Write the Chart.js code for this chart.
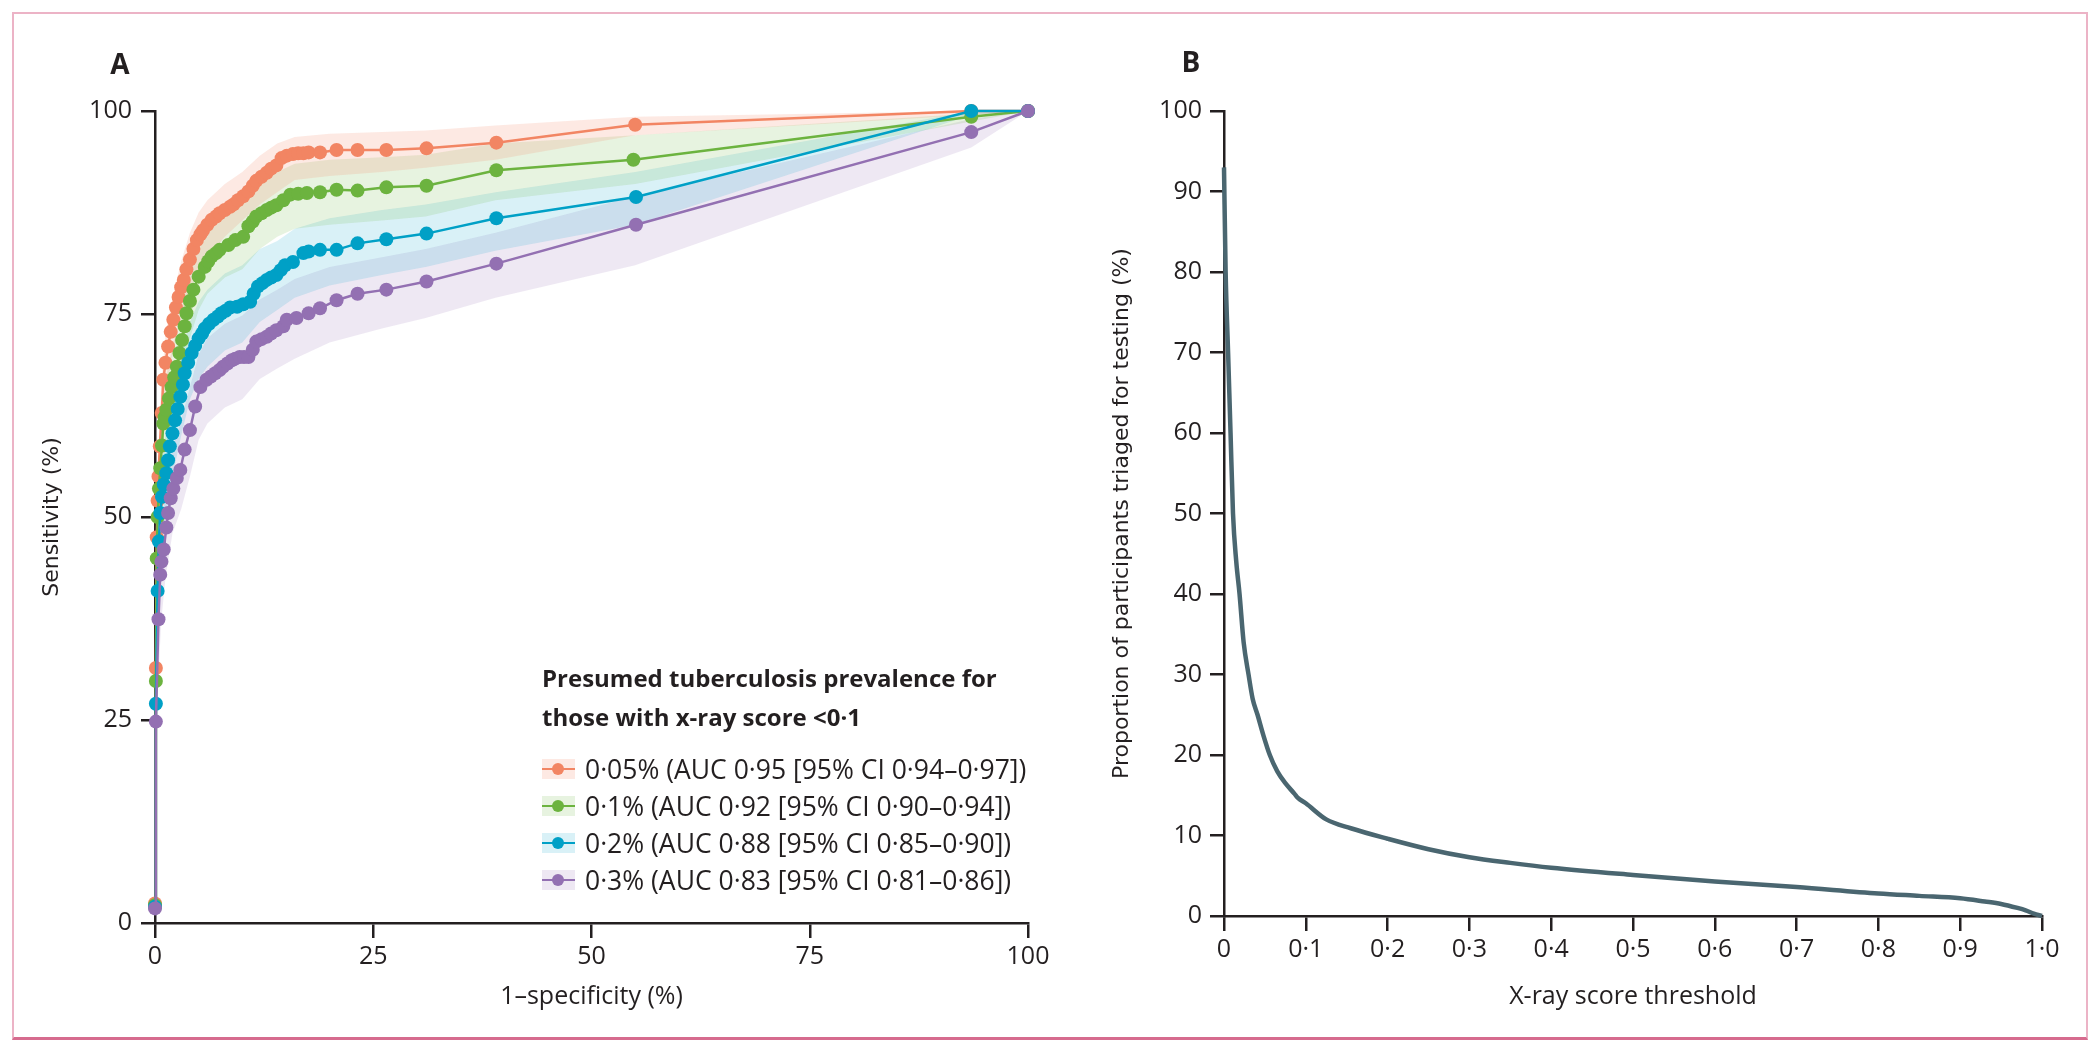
<!DOCTYPE html>
<html>
<head>
<meta charset="utf-8">
<script src="https://cdn.jsdelivr.net/npm/chart.js@4.4.0/dist/chart.umd.min.js"></script>
<style>
  html, body { margin: 0; padding: 0; background: #fff; width: 2100px; height: 1050px; overflow: hidden; }
  #frame { position: absolute; left: 12px; top: 12px; width: 2072px; height: 1023px;
           border: 2px solid #ecb3c6; border-bottom: 3px solid #d66b8e; }
  canvas { position: absolute; top: 0; }
  #chartA { left: 0; }
  #chartB { left: 1050px; }
  .panel { position: absolute; font: bold 28px "Open Sans", sans-serif; color: #231f20; transform: translate(-50%, -50%); }
  #legend { position: absolute; left: 542px; top: 658px; font-family: "Open Sans", sans-serif; color: #231f20; }
  #legend .ltitle { font-weight: bold; font-size: 24px; line-height: 39px; white-space: nowrap; }
  #legend .items { margin-top: 14px; }
  #legend .item { display: flex; align-items: center; height: 37px; font-size: 26.5px; white-space: nowrap; }
  #legend .sw { position: relative; width: 33px; height: 20px; margin-right: 10px; }
  #legend .sw .ln { position: absolute; left: 0; right: 0; top: 9px; height: 2px; }
  #legend .sw .dt { position: absolute; left: 10px; top: 4px; width: 12px; height: 12px; border-radius: 50%; }
</style>
</head>
<body>
<div id="frame"></div>
<canvas id="chartA" width="1080" height="1050"></canvas>
<canvas id="chartB" width="1050" height="1050"></canvas>
<div class="panel" style="left:120px; top:63px">A</div>
<div class="panel" style="left:1191px; top:61px">B</div>
<div id="legend">
  <div class="ltitle">Presumed tuberculosis prevalence for<br>those with x-ray score &lt;0·1</div>
  <div class="items" id="legendItems"></div>
</div>
<script>
// ---- Panel A: ROC curves ----
const seriesLabels = [
    '0·05% (AUC 0·95 [95% CI 0·94–0·97])',
    '0·1% (AUC 0·92 [95% CI 0·90–0·94])',
    '0·2% (AUC 0·88 [95% CI 0·85–0·90])',
    '0·3% (AUC 0·83 [95% CI 0·81–0·86])'
];
const seriesColors = ['#f28563', '#6cb33f', '#00a0c6', '#9370b2'];
const bandColors = ['rgba(242,133,99,0.18)', 'rgba(108,179,63,0.16)', 'rgba(0,160,198,0.15)', 'rgba(147,112,178,0.16)'];

const fpr005 = [0, 0.1, 0.2, 0.3, 0.4, 0.55, 0.77, 0.95, 1.2, 1.5, 1.8, 2.1, 2.4, 2.7, 3.0, 3.3, 3.6, 4.0, 4.4, 4.8, 5.2, 5.5, 6.0, 6.5, 7.0, 7.4, 8.0, 8.6, 9.0, 9.5, 10.1, 10.7, 11.2, 11.6, 12.2, 12.8, 13.3, 13.9, 14.5, 15.1, 15.8, 16.4, 17.0, 17.6, 18.9, 20.8, 23.2, 26.5, 31.1, 39.1, 55.0, 93.5, 100];
const sens005 = [2.4, 31.4, 47.5, 52, 55, 58.7, 62.8, 66.9, 69, 71, 72.8, 74.3, 75.8, 77.1, 78.3, 79.2, 80.5, 81.7, 83, 84.1, 84.8, 85.3, 86, 86.6, 87, 87.4, 87.8, 88.2, 88.5, 89, 89.5, 90.1, 90.8, 91.4, 91.9, 92.4, 92.9, 93.3, 94.2, 94.5, 94.7, 94.8, 94.8, 94.9, 94.9, 95.2, 95.2, 95.2, 95.4, 96.1, 98.3, 100, 100];

const fpr01 = [0, 0.1, 0.2, 0.3, 0.45, 0.6, 0.8, 0.95, 1.1, 1.3, 1.6, 1.9, 2.2, 2.5, 2.8, 3.1, 3.4, 3.6, 4.0, 4.4, 5.0, 5.7, 6.1, 6.5, 7.0, 7.4, 8.4, 9.2, 10.1, 10.7, 11.2, 11.6, 12.2, 12.8, 13.3, 13.9, 14.7, 15.5, 16.4, 17.4, 18.9, 20.8, 23.2, 26.5, 31.1, 39.1, 54.8, 93.5, 100];
const sens01 = [2.2, 29.8, 44.9, 50, 53.5, 56, 58.8, 61.5, 62.3, 63.2, 64.6, 66.0, 67.2, 68.5, 70.2, 71.8, 73.5, 75.1, 76.6, 78.0, 79.6, 80.8, 81.5, 82.1, 82.5, 82.9, 83.5, 84.1, 84.5, 85.8, 86.4, 87.0, 87.4, 87.8, 88.1, 88.4, 89.0, 89.7, 89.8, 89.9, 90.0, 90.3, 90.2, 90.6, 90.8, 92.7, 94.0, 99.3, 100];

const fpr02 = [0, 0.1, 0.3, 0.45, 0.6, 0.8, 1.0, 1.3, 1.5, 1.7, 2.0, 2.3, 2.6, 2.9, 3.2, 3.4, 3.8, 4.2, 4.6, 5.0, 5.4, 5.7, 6.2, 6.7, 7.2, 7.6, 8.1, 8.6, 9.4, 10.1, 10.9, 11.3, 11.8, 12.3, 12.8, 13.3, 13.9, 14.4, 14.9, 15.8, 17.0, 17.6, 18.9, 20.8, 23.2, 26.5, 31.1, 39.1, 55.1, 93.5, 100];
const sens02 = [2.0, 27.0, 40.9, 47.0, 50.5, 52.5, 54, 55.4, 57, 58.7, 60.3, 61.9, 63.3, 64.8, 66.3, 67.7, 69.0, 70.2, 71.1, 72.0, 72.6, 73.2, 73.8, 74.3, 74.7, 75.1, 75.4, 75.8, 75.9, 76.2, 76.5, 77.5, 78.4, 78.8, 79.2, 79.5, 79.8, 80.4, 81.0, 81.4, 82.5, 82.7, 82.9, 82.9, 83.7, 84.2, 84.9, 86.8, 89.4, 100, 100];

const fpr03 = [0, 0.1, 0.4, 0.6, 0.74, 1.0, 1.3, 1.5, 1.8, 2.1, 2.5, 2.9, 3.4, 4.0, 4.6, 5.2, 5.9, 6.4, 6.9, 7.4, 7.8, 8.3, 8.8, 9.2, 9.7, 10.2, 10.7, 11.2, 11.6, 12.2, 12.8, 13.3, 13.9, 14.7, 15.1, 16.2, 17.6, 18.9, 20.8, 23.2, 26.5, 31.1, 39.1, 55.1, 93.5, 100];
const sens03 = [1.8, 24.8, 37.4, 42.9, 44.5, 46.0, 48.7, 50.5, 52.3, 53.5, 54.8, 55.8, 58.3, 60.7, 63.6, 66.0, 66.9, 67.3, 67.7, 68.1, 68.5, 68.9, 69.3, 69.5, 69.7, 69.7, 69.7, 70.6, 71.6, 71.9, 72.2, 72.6, 73.0, 73.5, 74.3, 74.5, 75.1, 75.7, 76.7, 77.5, 78.0, 79.0, 81.2, 86.0, 97.4, 100];

// 95% CI bands, shared x grid
const bandX = [0, 0.3, 0.7, 1.2, 2, 3, 4, 5, 6, 8, 10, 12, 14, 16, 20, 26, 31, 39, 55, 93.5, 100];
const upper005 = [3, 56, 66, 72.5, 77, 81.5, 85, 87.5, 89, 91, 92.5, 94.5, 96, 96.8, 97.2, 97.4, 97.6, 98.2, 99.3, 100, 100];
const lower005 = [2, 48, 58, 65, 70, 74.5, 78, 80.5, 82, 84.5, 86.5, 88.5, 90, 91.5, 92, 92.5, 93, 94, 97, 99.5, 100];
const upper01 = [2.6, 54, 62, 67, 71, 75.5, 80, 83, 85, 87, 88.5, 91, 92.5, 93.5, 94, 94.3, 94.6, 96, 97, 99.7, 100];
const lower01 = [1.8, 45, 53, 58, 62, 67, 72, 75.5, 77.5, 79.5, 80.5, 83, 84.5, 85.5, 86, 86.5, 87, 89, 91, 98.7, 100];
const upper02 = [2.4, 45, 56, 60, 65, 70, 74, 76.5, 78, 80, 81, 83, 84, 85.5, 86.8, 87.8, 88.5, 90, 92.5, 100, 100];
const lower02 = [1.6, 36, 46.5, 50, 55, 60, 64.5, 67, 68.5, 70.5, 71.5, 74, 75.5, 77, 78.5, 79.8, 80.8, 82.8, 86, 99.5, 100];
const upper03 = [2.2, 38, 48, 53.5, 58.5, 62, 66, 70, 72, 73.8, 74.8, 76.8, 78, 79.3, 80.8, 82, 83, 85, 89.5, 99, 100];
const lower03 = [1.4, 28, 37, 42.5, 48, 51, 55, 59.5, 61.5, 63.5, 64.5, 67, 68.3, 69.5, 71.5, 73.2, 74.5, 77, 81, 95.5, 100];

const aTicksX = [0, 25, 50, 75, 100];
const aTicksY = [0, 25, 50, 75, 100];

// ---- Panel B: proportion triaged ----
const threshold = [0, 0.002, 0.005, 0.008, 0.011, 0.015, 0.019, 0.024, 0.030, 0.035, 0.041, 0.048, 0.056, 0.065, 0.075, 0.086, 0.09, 0.1, 0.125, 0.155, 0.2, 0.25, 0.3, 0.35, 0.4, 0.5, 0.6, 0.7, 0.8, 0.85, 0.9, 0.93, 0.95, 0.97, 0.98, 0.99, 1.0];
const triaged = [93, 80, 70, 60, 50, 44, 40, 34, 30, 27, 25, 22.5, 20, 18, 16.5, 15.2, 14.7, 14, 12, 10.9, 9.6, 8.3, 7.3, 6.6, 6.0, 5.1, 4.3, 3.6, 2.8, 2.5, 2.2, 1.8, 1.5, 1.0, 0.7, 0.3, 0];
const bTickLabels = ['0', '0·1', '0·2', '0·3', '0·4', '0·5', '0·6', '0·7', '0·8', '0·9', '1·0'];

const ink = '#231f20';
const tickFont = { family: 'Open Sans', size: 25 };

function pts(xs, ys) {
    return xs.map((x, i) => ({ x: x, y: ys[i] }));
}

// 图例
const legendBox = document.getElementById('legendItems');
seriesLabels.forEach((label, i) => {
    const row = document.createElement('div');
    row.className = 'item';
    row.innerHTML = `
        <div class="sw" style="background:${bandColors[i]}">
            <div class="ln" style="background:${seriesColors[i]}"></div>
            <div class="dt" style="background:${seriesColors[i]}"></div>
        </div>
        <span>${label}</span>`;
    legendBox.appendChild(row);
});

// Panel A datasets
const fprs = [fpr005, fpr01, fpr02, fpr03];
const senss = [sens005, sens01, sens02, sens03];
const uppers = [upper005, upper01, upper02, upper03];
const lowers = [lower005, lower01, lower02, lower03];

const datasetsA = [];
for (let i = 0; i < 4; i++) {
    // band: upper filled down to lower
    datasetsA.push({
        data: pts(bandX, uppers[i]),
        borderWidth: 0,
        pointRadius: 0,
        backgroundColor: bandColors[i],
        fill: datasetsA.length + 1,
        order: 20 + i
    });
    datasetsA.push({
        data: pts(bandX, lowers[i]),
        borderWidth: 0,
        pointRadius: 0,
        fill: false,
        order: 20 + i
    });
}
for (let i = 0; i < 4; i++) {
    datasetsA.push({
        label: seriesLabels[i],
        data: pts(fprs[i], senss[i]),
        borderColor: seriesColors[i],
        backgroundColor: seriesColors[i],
        borderWidth: 2.5,
        pointRadius: 7,
        pointBorderWidth: 0,
        fill: false,
        clip: false,
        order: 3 - i
    });
}

function axisStyle(tickLen) {
    return {
        grid: { display: true, drawOnChartArea: false, drawTicks: true, tickLength: tickLen, color: ink, lineWidth: 2.5 },
        border: { display: true, color: ink, width: 2.5 }
    };
}

new Chart(document.getElementById('chartA'), {
    type: 'line',
    data: { datasets: datasetsA },
    options: {
        responsive: false,
        animation: false,
        events: [],
        layout: { padding: { left: 0, top: 111, right: 52, bottom: 0 } },
        plugins: { legend: { display: false }, tooltip: { enabled: false } },
        scales: {
            x: {
                type: 'linear', min: 0, max: 100,
                afterBuildTicks: s => { s.ticks = aTicksX.map(v => ({ value: v })); },
                ticks: { font: tickFont, color: ink, padding: 4, maxRotation: 0 },
                ...axisStyle(15),
                title: { display: true, text: '1–specificity (%)', color: ink, font: { family: 'Open Sans', size: 25 }, padding: { top: 0, bottom: 38 } },
                afterFit: s => { s.height = 127; }
            },
            y: {
                type: 'linear', min: 0, max: 100,
                afterBuildTicks: s => { s.ticks = aTicksY.map(v => ({ value: v })); },
                ticks: { font: tickFont, color: ink, padding: 9 },
                ...axisStyle(14),
                title: { display: true, text: 'Sensitivity (%)', color: ink, font: { family: 'DejaVu Sans', size: 22 }, padding: { top: 39, bottom: 0 } },
                afterFit: s => { s.width = 155; }
            }
        }
    }
});

new Chart(document.getElementById('chartB'), {
    type: 'line',
    data: {
        datasets: [{
            data: pts(threshold, triaged),
            borderColor: '#4a6670',
            borderWidth: 4.5,
            pointRadius: 0,
            cubicInterpolationMode: 'monotone',
            fill: false,
            clip: false
        }]
    },
    options: {
        responsive: false,
        animation: false,
        events: [],
        layout: { padding: { left: 0, top: 111, right: 58, bottom: 0 } },
        plugins: { legend: { display: false }, tooltip: { enabled: false } },
        scales: {
            x: {
                type: 'linear', min: 0, max: 1,
                afterBuildTicks: s => { s.ticks = bTickLabels.map((t, i) => ({ value: i / 10 })); },
                ticks: { font: tickFont, color: ink, padding: 4, maxRotation: 0, autoSkip: false,
                         callback: (v, i) => bTickLabels[i] },
                ...axisStyle(15),
                title: { display: true, text: 'X-ray score threshold', color: ink, font: { family: 'Open Sans', size: 25 }, padding: { top: 0, bottom: 38 } },
                afterFit: s => { s.height = 134; }
            },
            y: {
                type: 'linear', min: 0, max: 100,
                ticks: { stepSize: 10, font: tickFont, color: ink, padding: 8 },
                ...axisStyle(14),
                title: { display: true, text: 'Proportion of participants triaged for testing (%)', color: ink, font: { family: 'DejaVu Sans', size: 22 }, padding: { top: 59, bottom: 0 } },
                afterFit: s => { s.width = 174; }
            }
        }
    }
});
</script>
</body>
</html>
